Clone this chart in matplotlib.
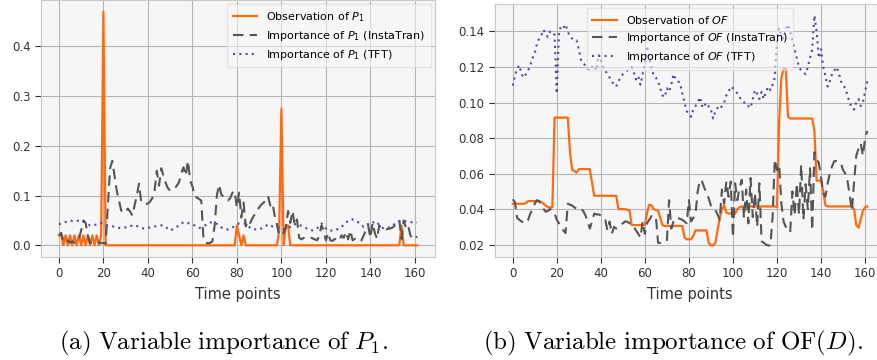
#!/usr/bin/env python3
import matplotlib
matplotlib.use("Agg")
import matplotlib.pyplot as plt
import numpy as np

# ---- data (162 time points each) ----
obs_p1 = [
    0.02, 0.02, 0.0, 0.02, 0.0, 0.02, 0.0, 0.02, 0.0, 0.02,
    0.0, 0.02, 0.0, 0.02, 0.0, 0.02, 0.0, 0.02, 0.0, 0.02,
    0.47, 0.0, 0.0, 0.0, 0.0, 0.0, 0.0, 0.0, 0.0, 0.0,
    0.0, 0.0, 0.0, 0.0, 0.0, 0.0, 0.0, 0.0, 0.0, 0.0,
    0.0, 0.0, 0.0, 0.0, 0.0, 0.0, 0.0, 0.0, 0.0, 0.0,
    0.0, 0.0, 0.0, 0.0, 0.0, 0.0, 0.0, 0.0, 0.0, 0.0,
    0.0, 0.0, 0.0, 0.0, 0.0, 0.0, 0.0, 0.0, 0.0, 0.0,
    0.0, 0.0, 0.0, 0.0, 0.0, 0.0, 0.0, 0.0, 0.0, 0.0,
    0.04, 0.02, 0.0, 0.02, 0.0, 0.0, 0.0, 0.0, 0.0, 0.0,
    0.0, 0.0, 0.0, 0.0, 0.0, 0.0, 0.0, 0.0, 0.0, 0.03,
    0.275, 0.0, 0.04, 0.04, 0.0, 0.0, 0.0, 0.0, 0.0, 0.0,
    0.0, 0.0, 0.0, 0.0, 0.0, 0.0, 0.0, 0.0, 0.0, 0.0,
    0.0, 0.0, 0.0, 0.0, 0.0, 0.0, 0.0, 0.0, 0.0, 0.0,
    0.0, 0.0, 0.0, 0.0, 0.0, 0.0, 0.0, 0.0, 0.0, 0.0,
    0.0, 0.0, 0.0, 0.0, 0.0, 0.0, 0.0, 0.0, 0.0, 0.0,
    0.0, 0.0, 0.0, 0.0, 0.04, 0.0, 0.0, 0.0, 0.0, 0.0,
    0.0, 0.0,
]
insta_p1 = [
    0.02, 0.025, 0.01, 0.005, 0.01, 0.005, 0.008, 0.005, 0.01, 0.012,
    0.03, 0.05, 0.045, 0.02, 0.005, 0.006, 0.004, 0.005, 0.006, 0.004,
    0.005, 0.003, 0.08, 0.155, 0.17, 0.14, 0.11, 0.09, 0.07, 0.065,
    0.068, 0.074, 0.068, 0.06, 0.08, 0.1, 0.124, 0.087, 0.085, 0.083,
    0.084, 0.088, 0.095, 0.11, 0.15, 0.12, 0.155, 0.14, 0.125, 0.115,
    0.11, 0.112, 0.114, 0.12, 0.127, 0.145, 0.157, 0.14, 0.17, 0.13,
    0.119, 0.099, 0.096, 0.093, 0.09, 0.012, 0.005, 0.004, 0.005, 0.008,
    0.04, 0.1, 0.122, 0.102, 0.098, 0.096, 0.09, 0.095, 0.106, 0.109,
    0.076, 0.106, 0.056, 0.086, 0.038, 0.05, 0.045, 0.055, 0.062, 0.07,
    0.076, 0.082, 0.086, 0.09, 0.099, 0.08, 0.085, 0.059, 0.042, 0.02,
    0.022, 0.025, 0.035, 0.069, 0.045, 0.069, 0.04, 0.052, 0.015, 0.012,
    0.015, 0.014, 0.015, 0.016, 0.014, 0.012, 0.01, 0.018, 0.04, 0.03,
    0.01, 0.025, 0.01, 0.009, 0.013, 0.01, 0.009, 0.02, 0.015, 0.027,
    0.012, 0.03, 0.01, 0.013, 0.01, 0.007, 0.01, 0.02, 0.03, 0.04,
    0.015, 0.045, 0.025, 0.013, 0.04, 0.034, 0.033, 0.032, 0.033, 0.034,
    0.036, 0.04, 0.045, 0.05, 0.013, 0.05, 0.035, 0.04, 0.02, 0.012,
    0.014, 0.018,
]
tft_p1 = [
    0.042, 0.044, 0.046, 0.047, 0.048, 0.05, 0.049, 0.05, 0.05, 0.049,
    0.048, 0.047, 0.046, 0.043, 0.04, 0.041, 0.041, 0.042, 0.044, 0.045,
    0.044, 0.041, 0.04, 0.039, 0.038, 0.038, 0.036, 0.035, 0.035, 0.036,
    0.036, 0.037, 0.038, 0.04, 0.041, 0.039, 0.037, 0.035, 0.034, 0.034,
    0.035, 0.036, 0.037, 0.038, 0.038, 0.039, 0.04, 0.04, 0.037, 0.033,
    0.03, 0.032, 0.035, 0.037, 0.041, 0.044, 0.046, 0.047, 0.045, 0.043,
    0.042, 0.04, 0.038, 0.035, 0.036, 0.038, 0.041, 0.045, 0.046, 0.046,
    0.046, 0.043, 0.039, 0.036, 0.034, 0.032, 0.032, 0.034, 0.036, 0.039,
    0.042, 0.044, 0.044, 0.044, 0.043, 0.039, 0.035, 0.032, 0.032, 0.032,
    0.032, 0.034, 0.036, 0.039, 0.042, 0.04, 0.038, 0.036, 0.035, 0.035,
    0.034, 0.033, 0.032, 0.035, 0.037, 0.038, 0.042, 0.044, 0.042, 0.039,
    0.037, 0.035, 0.032, 0.031, 0.03, 0.031, 0.034, 0.039, 0.044, 0.04,
    0.034, 0.03, 0.03, 0.029, 0.03, 0.032, 0.035, 0.037, 0.041, 0.046,
    0.049, 0.052, 0.052, 0.05, 0.048, 0.045, 0.041, 0.037, 0.039, 0.043,
    0.047, 0.047, 0.045, 0.047, 0.04, 0.036, 0.034, 0.034, 0.035, 0.038,
    0.04, 0.043, 0.046, 0.049, 0.05, 0.049, 0.048, 0.047, 0.047, 0.046,
    0.047, 0.046,
]

obs_of = [
    0.043, 0.043, 0.043, 0.043, 0.043, 0.043, 0.0435, 0.0445, 0.0445, 0.0445,
    0.0445, 0.0445, 0.0445, 0.044, 0.043, 0.042, 0.041, 0.041, 0.041, 0.0915,
    0.0915, 0.0915, 0.0915, 0.0915, 0.0915, 0.0915, 0.072, 0.062, 0.0615, 0.0605,
    0.0625, 0.0625, 0.0625, 0.0625, 0.0625, 0.0625, 0.055, 0.0475, 0.0475, 0.0475,
    0.0475, 0.0475, 0.0475, 0.0475, 0.0475, 0.0475, 0.0475, 0.0475, 0.04, 0.04,
    0.04, 0.04, 0.0395, 0.0395, 0.031, 0.031, 0.031, 0.031, 0.031, 0.031,
    0.031, 0.038, 0.0425, 0.042, 0.04, 0.0395, 0.039, 0.035, 0.031, 0.0305,
    0.0305, 0.0305, 0.0305, 0.0305, 0.0305, 0.0305, 0.0305, 0.0305, 0.024, 0.023,
    0.023, 0.023, 0.025, 0.028, 0.028, 0.028, 0.028, 0.028, 0.028, 0.021,
    0.0195, 0.0195, 0.021, 0.028, 0.035, 0.04, 0.042, 0.038, 0.0375, 0.0375,
    0.0375, 0.0375, 0.04, 0.041, 0.0415, 0.0415, 0.0415, 0.0415, 0.0415, 0.0415,
    0.0415, 0.0415, 0.0415, 0.0415, 0.0415, 0.0415, 0.0415, 0.0415, 0.0415, 0.0415,
    0.041, 0.09, 0.114, 0.119, 0.119, 0.092, 0.091, 0.091, 0.091, 0.091,
    0.091, 0.091, 0.091, 0.091, 0.091, 0.091, 0.091, 0.084, 0.056, 0.056,
    0.056, 0.05, 0.042, 0.0415, 0.0415, 0.0415, 0.0415, 0.0415, 0.0415, 0.0415,
    0.0415, 0.0415, 0.0415, 0.0415, 0.0415, 0.04, 0.031, 0.0295, 0.034, 0.039,
    0.041, 0.0415,
]
insta_of = [
    0.0455, 0.044, 0.035, 0.034, 0.033, 0.0325, 0.032, 0.034, 0.0375, 0.04,
    0.043, 0.045, 0.0445, 0.042, 0.04, 0.0385, 0.039, 0.04, 0.039, 0.0375,
    0.034, 0.032, 0.03, 0.028, 0.0265, 0.043, 0.0425, 0.042, 0.041, 0.04,
    0.0395, 0.04, 0.039, 0.0365, 0.033, 0.029, 0.033, 0.0375, 0.037, 0.037,
    0.0365, 0.035, 0.034, 0.028, 0.033, 0.026, 0.03, 0.029, 0.03, 0.031,
    0.032, 0.033, 0.033, 0.032, 0.032, 0.03, 0.028, 0.026, 0.024, 0.033,
    0.026, 0.032, 0.034, 0.036, 0.036, 0.036, 0.021, 0.021, 0.0215, 0.022,
    0.022, 0.045, 0.029, 0.033, 0.035, 0.035, 0.0345, 0.034, 0.033, 0.032,
    0.045, 0.033, 0.035, 0.0375, 0.05, 0.0565, 0.0555, 0.052, 0.049, 0.046,
    0.042, 0.04, 0.0395, 0.037, 0.034, 0.051, 0.043, 0.0555, 0.047, 0.0555,
    0.024, 0.0545, 0.045, 0.052, 0.0565, 0.035, 0.051, 0.032, 0.0575, 0.0355,
    0.049, 0.03, 0.0545, 0.022, 0.021, 0.02, 0.0195, 0.0195, 0.0355, 0.068,
    0.062, 0.065, 0.043, 0.033, 0.03, 0.029, 0.027, 0.05, 0.0365, 0.0545,
    0.037, 0.065, 0.034, 0.054, 0.04, 0.063, 0.028, 0.072, 0.068, 0.066,
    0.058, 0.049, 0.047, 0.0545, 0.06, 0.064, 0.067, 0.067, 0.0665, 0.066,
    0.062, 0.06, 0.056, 0.048, 0.039, 0.055, 0.07, 0.074, 0.077, 0.07,
    0.08, 0.084,
]
tft_of = [
    0.1095, 0.115, 0.119, 0.121, 0.116, 0.114, 0.116, 0.118, 0.121, 0.125,
    0.128, 0.133, 0.136, 0.138, 0.141, 0.138, 0.137, 0.14, 0.14, 0.138,
    0.105, 0.14, 0.143, 0.142, 0.144, 0.14, 0.137, 0.136, 0.135, 0.135,
    0.13, 0.124, 0.122, 0.121, 0.119, 0.118, 0.12, 0.121, 0.118, 0.127,
    0.124, 0.12, 0.118, 0.116, 0.114, 0.112, 0.11, 0.109, 0.112, 0.114,
    0.116, 0.117, 0.118, 0.119, 0.12, 0.117, 0.113, 0.115, 0.11, 0.116,
    0.122, 0.132, 0.125, 0.12, 0.115, 0.114, 0.112, 0.108, 0.104, 0.103,
    0.108, 0.106, 0.11, 0.116, 0.113, 0.112, 0.111, 0.105, 0.1, 0.095,
    0.094, 0.092, 0.096, 0.098, 0.1, 0.103, 0.098, 0.1, 0.097, 0.098,
    0.096, 0.091, 0.095, 0.097, 0.096, 0.098, 0.1, 0.104, 0.106, 0.109,
    0.108, 0.107, 0.105, 0.103, 0.101, 0.1, 0.1, 0.098, 0.097, 0.102,
    0.107, 0.105, 0.102, 0.106, 0.102, 0.106, 0.109, 0.107, 0.11, 0.114,
    0.135, 0.142, 0.137, 0.136, 0.141, 0.144, 0.14, 0.135, 0.13, 0.125,
    0.12, 0.118, 0.117, 0.116, 0.12, 0.125, 0.13, 0.149, 0.14, 0.125,
    0.13, 0.12, 0.115, 0.109, 0.112, 0.116, 0.118, 0.12, 0.117, 0.112,
    0.11, 0.108, 0.104, 0.1, 0.097, 0.096, 0.1, 0.102, 0.098, 0.1,
    0.106, 0.112,
]

ORANGE = "#ff6a10"
GRAY = "#555555"
PURPLE = "#4b4b9c"


def draw_panel(ax, obs, insta, tft, name, legend_loc):
    x = np.arange(len(obs))
    ax.set_facecolor("#f6f6f6")
    ax.grid(True, color="#b5b5b5", linewidth=0.8)
    ax.set_axisbelow(True)
    ax.plot(x, obs, color=ORANGE, linewidth=1.6, label="Observation of " + name)
    ax.plot(x, insta, color=GRAY, linewidth=1.5, linestyle=(0, (5, 3)),
            label="Importance of " + name + " (InstaTran)")
    ax.plot(x, tft, color=PURPLE, linewidth=1.5, linestyle=(0, (1, 2)),
            label="Importance of " + name + " (TFT)")
    ax.set_xticks(range(0, 161, 20))
    ax.set_xlabel("Time points", fontsize=10.5, color="#333333", labelpad=5)
    ax.tick_params(axis="both", labelsize=8.5, colors="#333333", length=4, width=0.8)
    for s in ax.spines.values():
        s.set_color("#c8c8c8")
    leg = ax.legend(loc=legend_loc, fontsize=8, frameon=True, fancybox=False,
                    framealpha=0.55, handlelength=2.2, borderpad=0.5,
                    labelspacing=0.45, borderaxespad=0.4)
    leg.get_frame().set_facecolor("#f8f8f8")
    leg.get_frame().set_edgecolor("#d8d8d8")


fig = plt.figure(figsize=(8.78, 3.6), dpi=100)
ax1 = fig.add_axes([41 / 878, 103 / 360, 394 / 878, 257 / 360])
ax2 = fig.add_axes([495 / 878, 103 / 360, 390 / 878, 253 / 360])

draw_panel(ax1, obs_p1, insta_p1, tft_p1, "$P_1$", "upper right")
draw_panel(ax2, obs_of, insta_of, tft_of, "$OF$", "upper center")
ax2.yaxis.set_major_formatter(matplotlib.ticker.FormatStrFormatter("%.2f"))

fig.text(224 / 878, 1 - 343 / 360,
         r"$\mathrm{(a)\ Variable\ importance\ of\ }P_1\mathrm{.}$",
         ha="center", va="center", fontsize=18, math_fontfamily="cm")
fig.text(673 / 878, 1 - 343 / 360,
         r"$\mathrm{(b)\ Variable\ importance\ of\ OF(}D\mathrm{).}$",
         ha="center", va="center", fontsize=18, math_fontfamily="cm")

fig.savefig("out.png", dpi=100, facecolor="white")
plt.close()
